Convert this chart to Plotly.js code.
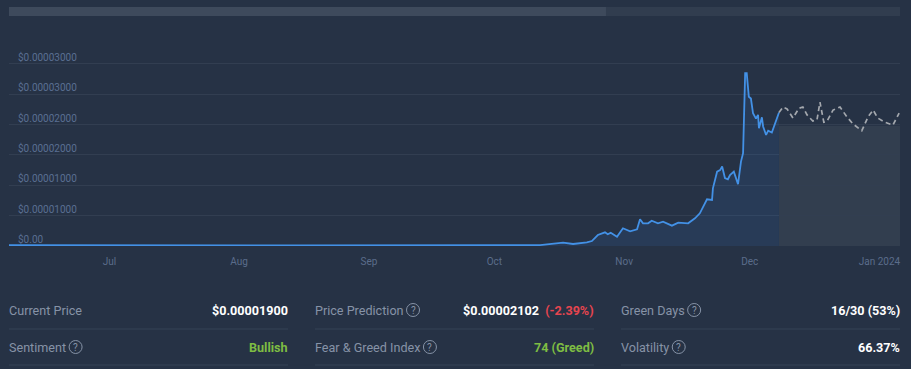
<!DOCTYPE html>
<html>
<head>
<meta charset="utf-8">
<script src="https://cdn.plot.ly/plotly-3.0.1.min.js"></script>
<style>
html,body{margin:0;padding:0;background:#263245;}
#chart{width:911px;height:369px;}
</style>
</head>
<body>
<div id="chart"></div>
<script>
// ---------- DATA ----------
const priceDates = [
 '2023-06-07','2023-06-15','2023-06-25','2023-07-05','2023-07-15','2023-07-25','2023-08-05','2023-08-15',
 '2023-08-25','2023-09-05','2023-09-15','2023-09-25','2023-10-01',
 '2023-10-06 10:00','2023-10-11 22:00','2023-10-17 10:00','2023-10-19 19:00','2023-10-23 02:00','2023-10-24 07:00',
 '2023-10-25 17:00','2023-10-27 10:00','2023-10-28 02:00','2023-10-28 19:00','2023-10-30 07:00','2023-10-31 17:00',
 '2023-11-02 10:00','2023-11-04 02:00','2023-11-04 19:00','2023-11-05 12:00','2023-11-06 17:00','2023-11-07 14:00',
 '2023-11-09 02:00','2023-11-10 07:00','2023-11-12 10:00','2023-11-13 22:00','2023-11-16 07:00','2023-11-17 22:00',
 '2023-11-19 02:00','2023-11-20 19:00','2023-11-22 00:00','2023-11-22 05:00','2023-11-23 05:00','2023-11-23 22:00',
 '2023-11-24 10:00','2023-11-25 02:00','2023-11-25 19:00','2023-11-26 07:00','2023-11-27 05:00','2023-11-28 05:00',
 '2023-11-28 22:00','2023-11-29 10:00','2023-11-29 22:00','2023-11-30 07:00','2023-11-30 19:00','2023-12-01 07:00',
 '2023-12-01 19:00','2023-12-02 12:00','2023-12-03 00:00','2023-12-03 05:00','2023-12-03 22:00','2023-12-04 05:00',
 '2023-12-04 22:00','2023-12-05 10:00','2023-12-06 07:00','2023-12-07 00:00','2023-12-08 00:00'
];
const priceValues = [
 1.3e-7,1.1e-7,1.0e-7,1.2e-7,1.4e-7,1.1e-7,1.0e-7,0.9e-7,
 1.0e-7,0.8e-7,0.9e-7,0.7e-7,0.8e-7,
 0.9e-7,1.6e-7,5.4e-7,3.3e-7,6.1e-7,8.2e-7,
 1.81e-6,2.26e-6,1.93e-6,2.19e-6,1.53e-6,2.92e-6,
 2.42e-6,2.75e-6,4.4e-6,3.74e-6,3.74e-6,4.17e-6,
 3.74e-6,4.0e-6,3.35e-6,3.84e-6,3.74e-6,4.57e-6,
 5.39e-6,7.7e-6,7.58e-6,9.5e-6,1.225e-5,1.25e-5,
 1.31e-5,1.12e-5,1.10e-5,1.17e-5,1.225e-5,1.02e-5,
 1.39e-5,1.53e-5,2.85e-5,2.85e-5,2.46e-5,2.43e-5,
 2.19e-5,2.10e-5,2.16e-5,1.94e-5,2.12e-5,1.97e-5,
 1.83e-5,1.90e-5,1.87e-5,2.01e-5,2.20e-5
];
const predDates = [
 '2023-12-08 00:00','2023-12-08 23:00','2023-12-09 22:00','2023-12-11 08:00','2023-12-12 19:00','2023-12-13 17:00',
 '2023-12-14 17:00','2023-12-16 02:00','2023-12-17 02:00','2023-12-17 19:00','2023-12-18 17:00','2023-12-19 12:00',
 '2023-12-20 22:00','2023-12-22 14:00','2023-12-24 05:00','2023-12-25 17:00','2023-12-27 19:00','2023-12-29 07:00',
 '2023-12-30 12:00','2023-12-31 14:00','2024-01-02 07:00','2024-01-04 05:00','2024-01-05 17:00'
];
const predValues = [
 2.20e-5,2.29e-5,2.26e-5,2.11e-5,2.27e-5,2.29e-5,
 2.16e-5,2.06e-5,2.08e-5,2.37e-5,2.04e-5,2.06e-5,
 2.24e-5,2.29e-5,2.13e-5,2.01e-5,1.90e-5,2.13e-5,
 2.24e-5,2.11e-5,2.04e-5,1.99e-5,2.19e-5
];
const predBandTop = 1.98e-5;
const xRange = ['2023-06-07', '2024-01-05 22:00'];
const yRange = [0, 3.23e-5];
const yTickVals = [0, 5e-6, 1e-5, 1.5e-5, 2e-5, 2.5e-5, 3e-5];
const yTickText = ['$0.00','$0.00001000','$0.00001000','$0.00002000','$0.00002000','$0.00003000','$0.00003000'];
const xTickVals = ['2023-07-01','2023-08-01','2023-09-01','2023-10-01','2023-11-01','2023-12-01','2024-01-01'];
const xTickText = ['Jul','Aug','Sep','Oct','Nov','Dec','Jan 2024'];
const progressShare = 0.67;

const statLabels = [['Current Price','Price Prediction','Green Days'],['Sentiment','Fear & Greed Index','Volatility']];
const statHelp = [[false,true,true],[true,true,true]];
const statValues = [
 ['<b>$0.00001900</b>','<b>$0.00002102</b> &nbsp;<b><span style="color:#e6454f">(-2.39%)</span></b>','<b>16/30 (53%)</b>'],
 ['<b><span style="color:#7ebd43">Bullish</span></b>','<b><span style="color:#7ebd43">74 (Greed)</span></b>','<b>66.37%</b>']
];

// ---------- LAYOUT HELPERS ----------
const W=911,H=369,L=9,R=11,T=50,B=123;
const pw=W-L-R, ph=H-T-B;
const px=p=>(p-L)/pw;
const py=p=>(H-B-p)/ph;
const FONT='Roboto, "Open Sans", Arial, sans-serif';
const STAT_SIZE=12.6;

const colLeft=[9,315,621], colRight=[288,594,900], rowY=[310,347], divY=[329,365];

const cv=document.createElement('canvas').getContext('2d');
cv.font=STAT_SIZE+'px Roboto';
const textW=t=>cv.measureText(t).width;

const shapes=[];
const annotations=[];
// progress bar
shapes.push({type:'rect',xref:'paper',yref:'paper',x0:px(9),x1:px(900),y0:py(16),y1:py(7),fillcolor:'#313d4f',line:{width:0},layer:'above'});
shapes.push({type:'rect',xref:'paper',yref:'paper',x0:px(9),x1:px(9+891*progressShare),y0:py(16),y1:py(7),fillcolor:'#3e4a5c',line:{width:0},layer:'above'});
// prediction band
shapes.push({type:'rect',xref:'x',yref:'y',x0:predDates[0],x1:xRange[1],y0:0,y1:predBandTop,fillcolor:'#323e4f',line:{width:0},layer:'below'});

// y tick labels (inside, above gridlines)
yTickVals.forEach((v,i)=>{
  annotations.push({xref:'paper',yref:'y',x:px(16),y:v,xanchor:'left',yanchor:'bottom',yshift:-1,
    text:yTickText[i],showarrow:false,font:{family:FONT,size:10,color:'#5a6f92'}});
});

for(let r=0;r<2;r++){
  for(let c=0;c<3;c++){
    annotations.push({xref:'paper',yref:'paper',x:px(colLeft[c]-2),y:py(rowY[r]),xanchor:'left',yanchor:'middle',
      text:statLabels[r][c],showarrow:false,font:{family:FONT,size:STAT_SIZE,color:'#8693a7'}});
    annotations.push({xref:'paper',yref:'paper',x:px(colRight[c]+2),y:py(rowY[r]),xanchor:'right',yanchor:'middle',
      text:statValues[r][c],showarrow:false,font:{family:FONT,size:STAT_SIZE,color:'#ffffff'}});
    shapes.push({type:'line',xref:'paper',yref:'paper',x0:px(colLeft[c]),x1:px(colRight[c]),y0:py(divY[r]),y1:py(divY[r]),
      line:{color:'#354257',width:1},layer:'above'});
    if(statHelp[r][c]){
      const cx=colLeft[c]+textW(statLabels[r][c])+9.5, cy=rowY[r], rad=6.5;
      shapes.push({type:'circle',xref:'paper',yref:'paper',x0:px(cx-rad),x1:px(cx+rad),y0:py(cy+rad),y1:py(cy-rad),
        line:{color:'#8693a7',width:1},layer:'above'});
      annotations.push({xref:'paper',yref:'paper',x:px(cx),y:py(cy),xanchor:'center',yanchor:'middle',text:'?',
        showarrow:false,font:{family:FONT,size:10,color:'#8693a7'}});
    }
  }
}

const traces=[
 {x:priceDates,y:priceValues,type:'scatter',mode:'lines',line:{color:'#4391e6',width:1.8},
  fill:'tozeroy',fillcolor:'rgba(60,130,220,0.12)',hoverinfo:'skip'},
 {x:predDates,y:predValues,type:'scatter',mode:'lines',line:{color:'#a4a8ae',width:1.7,dash:'5px,3.5px'},hoverinfo:'skip'}
];

const layout={
 width:W,height:H,margin:{l:L,r:R,t:T,b:B,pad:0},
 paper_bgcolor:'#263245',plot_bgcolor:'#263245',showlegend:false,
 font:{family:FONT},
 xaxis:{type:'date',range:xRange,tickvals:xTickVals,ticktext:xTickText,showgrid:false,zeroline:false,showline:false,
   ticks:'',tickfont:{size:10,color:'#5b6d8b',family:FONT},ticklabelstandoff:8,fixedrange:true},
 yaxis:{range:yRange,tickvals:yTickVals,showticklabels:false,showgrid:true,gridcolor:'#323e51',gridwidth:1,zeroline:false,
   showline:false,ticks:'',fixedrange:true},
 shapes:shapes,annotations:annotations
};
Plotly.newPlot('chart',traces,layout,{displayModeBar:false,staticPlot:true});
</script>
</body>
</html>
